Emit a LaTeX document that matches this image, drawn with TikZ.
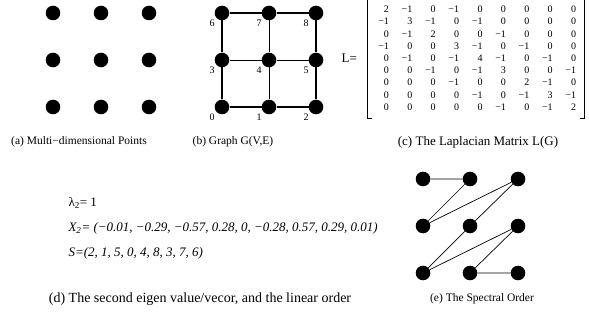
\documentclass[tikz,border=0pt]{standalone}
\usepackage{fontspec}
\setmainfont{Liberation Serif}
\usetikzlibrary{matrix}

\begin{document}
\begin{tikzpicture}[x=1pt,y=-1pt,
  dot/.style={circle,fill,inner sep=0pt,minimum size=14.6pt},
  vlabel/.style={font=\fontsize{10}{10}\selectfont,inner sep=0pt},
  capt/.style={font=\fontsize{11.5}{13}\selectfont},
  bigcapt/.style={font=\fontsize{13}{15}\selectfont},
  formula/.style={font=\fontsize{13}{15}\selectfont\itshape,anchor=west},
  outer/.style={line width=1.2pt},
  inner/.style={line width=0.8pt},
  bracket/.style={line width=1pt}]
  \useasboundingbox (0,0) rectangle (589,331);

  % (a) the points
  \foreach \c/\x in {0/53,1/101,2/149}
    \foreach \r/\y in {0/13,1/60,2/107}
      \node[dot] (a\r\c) at (\x,\y) {};
  \node[capt] (capa) at (79,142) {(a) Multi−dimensional Points};

  % (b) the grid graph
  \foreach \n/\x/\y in {0/222/107,1/269/107,2/316/107,3/222/60,4/269/60,5/316/60,6/222/13,7/269/13,8/316/13}{
    \node[dot] (b\n) at (\x,\y) {};
    \node[vlabel] (l\n) at (\x-10,\y+10) {\n};
  }
  \draw[outer] (b6) -- (b7) -- (b8) -- (b5) -- (b2) -- (b1) -- (b0) -- (b3) -- (b6);
  \draw[inner] (b3) -- (b4) -- (b5) (b7) -- (b4) -- (b1);
  \node[capt] (capb) at (233,142) {(b) Graph G(V,E)};

  % (c) the Laplacian
  \matrix (lap) at (475.5,58) [matrix of nodes,
    nodes={font=\fontsize{10}{10}\selectfont,text width=14pt,align=right,
      inner sep=0pt,text height=7pt,text depth=0pt},
    column sep=9.4pt,row sep=5.2pt] {
    2 & −1 & 0 & −1 & 0 & 0 & 0 & 0 & 0 \\
    −1 & 3 & −1 & 0 & −1 & 0 & 0 & 0 & 0 \\
    0 & −1 & 2 & 0 & 0 & −1 & 0 & 0 & 0 \\
    −1 & 0 & 0 & 3 & −1 & 0 & −1 & 0 & 0 \\
    0 & −1 & 0 & −1 & 4 & −1 & 0 & −1 & 0 \\
    0 & 0 & −1 & 0 & −1 & 3 & 0 & 0 & −1 \\
    0 & 0 & 0 & −1 & 0 & 0 & 2 & −1 & 0 \\
    0 & 0 & 0 & 0 & −1 & 0 & −1 & 3 & −1 \\
    0 & 0 & 0 & 0 & 0 & −1 & 0 & −1 & 2 \\
  };
  \draw[bracket] ([shift={(1pt,3pt)}]lap.north west) -- ([shift={(-4pt,3pt)}]lap.north west)
    -- ([shift={(-4pt,-5pt)}]lap.south west) -- ([shift={(1pt,-5pt)}]lap.south west);
  \draw[bracket] ([shift={(0pt,3pt)}]lap.north east) -- ([shift={(5pt,3pt)}]lap.north east)
    -- ([shift={(5pt,-5pt)}]lap.south east) -- ([shift={(0pt,-5pt)}]lap.south east);
  \node[bigcapt,anchor=east] (lname) at ([xshift=-11pt]lap.west) {L=};
  \node[bigcapt] (capc) at (478,142) {(c) The Laplacian Matrix L(G)};

  % (d) eigen value, vector and order
  \node[bigcapt,anchor=west] (lam) at (65,203) {λ\textsubscript{2}= 1};
  \node[formula] (vec) at (65,228) {X\textsubscript{2}= (−0.01, −0.29, −0.57, 0.28, 0, −0.28, 0.57, 0.29, 0.01)};
  \node[formula] (ord) at (65,253) {S=(2, 1, 5, 0, 4, 8, 3, 7, 6)};
  \node[font=\fontsize{14}{16}\selectfont] (capd) at (200,299) {(d) The second eigen value/vecor, and the linear order};

  % (e) the spectral order
  \foreach \n/\x/\y in {1/423/179,2/470/179,3/423/226,4/518/179,5/470/226,6/423/273,7/518/226,8/470/273,9/518/273}
    \node[dot] (s\n) at (\x,\y) {};
  \draw[line width=0.7pt] (s1) -- (s2) -- (s3) -- (s4) -- (s5) -- (s6) -- (s7) -- (s8) -- (s9);
  \node[capt] (cape) at (482,299) {(e) The Spectral Order};
\end{tikzpicture}
\end{document}
